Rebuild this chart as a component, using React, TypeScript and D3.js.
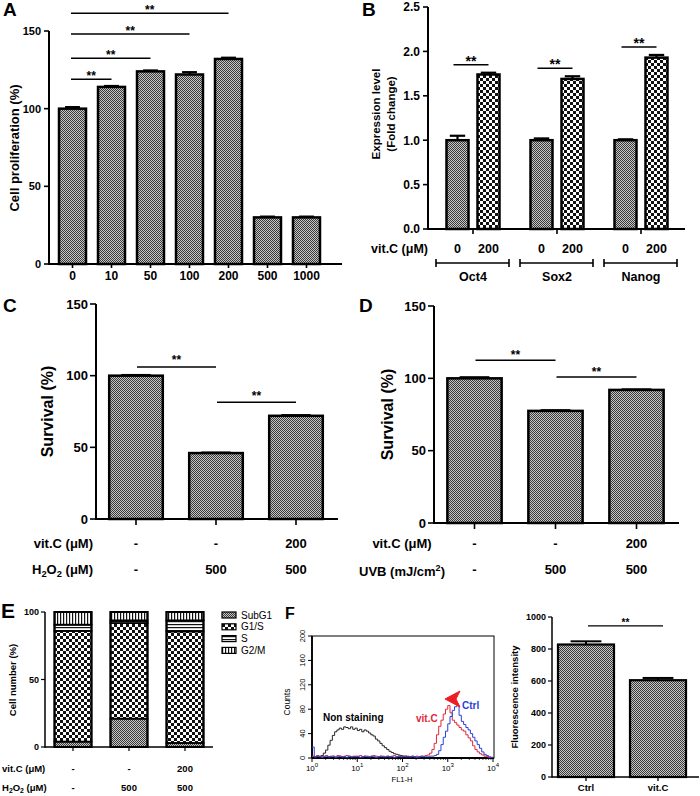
import React from 'react';
import * as d3 from 'd3';

// ---------- Panel A ----------
const aDoses = ['0', '10', '50', '100', '200', '500', '1000'];
const aValues = [100, 114, 124, 122, 132, 30, 30];
const aErrors = [1, 0.6, 0.6, 1.5, 0.8, 0.5, 0.5];
const aTicks = [0, 50, 100, 150];
const aSigTo = ['10', '50', '100', '200'];
const aSigY = [119, 132.5, 148, 161.5];

// ---------- Panel B ----------
const bGenes = ['Oct4', 'Sox2', 'Nanog'];
const bDoses = ['0', '200'];
const bControl = [1.0, 1.0, 1.0];
const bTreated = [1.74, 1.69, 1.93];
const bControlErr = [0.05, 0.02, 0.01];
const bTreatedErr = [0.02, 0.03, 0.03];
const bTicks = [0, 0.5, 1.0, 1.5, 2.0, 2.5];
const bSigY = [1.85, 1.81, 2.05];

// ---------- Panel C ----------
const cGroups = ['c1', 'c2', 'c3'];
const cVitC = ['-', '-', '200'];
const cH2O2 = ['-', '500', '500'];
const cValues = [100, 46, 72];
const cErrors = [0.5, 0.4, 0.5];
const cSigPairs = [[0, 1], [1, 2]];
const cSigY = [106, 81.5];
const survTicks = [0, 50, 100, 150];

// ---------- Panel D ----------
const dGroups = ['d1', 'd2', 'd3'];
const dVitC = ['-', '-', '200'];
const dUVB = ['-', '500', '500'];
const dValues = [100, 77.5, 92];
const dErrors = [0.8, 0.5, 0.4];
const dSigPairs = [[0, 1], [1, 2]];
const dSigY = [112.5, 101];

// ---------- Panel E ----------
const eGroups = ['e1', 'e2', 'e3'];
const ePhases = ['SubG1', 'G1/S', 'S', 'G2/M'];
const eVitC = ['-', '-', '200'];
const eH2O2 = ['-', '500', '500'];
const eSubG1 = [4, 21, 3];
const eG1S = [82, 70.8, 82.6];
const eS = [4.6, 2, 8.2];
const eG2M = [9.4, 6.2, 6.2];
const eTicks = [0, 50, 100];

// ---------- Panel F (histogram, bins of 0.05 decade from 10^0) ----------
const fBinStep = 0.05;
const fNonStaining = [2, 1, 3, 2, 4, 8, 13, 21, 29, 37, 43, 46, 49, 47, 51, 50, 48, 51, 47, 49, 45, 47, 43, 46, 44, 41, 38, 36, 31, 28, 24, 20, 17, 14, 11, 9, 7, 6, 5, 4, 3, 3, 2, 2, 1, 1, 1, 0, 0];
const fVitCHist = [3, 2, 4, 3, 2, 3, 4, 2, 3, 3, 2, 4, 3, 2, 3, 4, 3, 2, 3, 2, 3, 4, 2, 3, 3, 2, 3, 4, 3, 2, 3, 3, 2, 3, 2, 3, 4, 2, 3, 2, 3, 2, 3, 2, 3, 2, 3, 2, 3, 3, 4,
  5, 8, 14, 24, 38, 52, 62, 72, 80, 86, 74, 62, 58, 54, 50, 46, 44, 38, 33, 28, 20, 14, 10, 7, 5, 3, 2, 1, 1, 0];
const fCtrlHist = [18, 2, 3, 2, 1, 2, 3, 2, 2, 3, 1, 2, 3, 2, 2, 1, 3, 2, 2, 3, 2, 1, 2, 3, 2, 2, 3, 2, 1, 2, 3, 2, 2, 3, 2, 2, 1, 2, 3, 2, 2, 3, 2, 2, 3, 2, 1, 2, 3, 2, 2,
  2, 3, 3, 4, 6, 12, 22, 34, 44, 56, 68, 78, 84, 86, 70, 60, 55, 50, 46, 40, 34, 28, 22, 16, 10, 6, 4, 2, 1, 0];
const fHistYTicks = [0, 40, 80, 120, 160, 200];
const fHistXDecades = [0, 1, 2, 3, 4];

// ---------- Panel F (bars) ----------
const fGroups = ['Ctrl', 'vit.C'];
const fValues = [828, 605];
const fErrors = [20, 14];
const fTicks = [0, 200, 400, 600, 800, 1000];
const fSigY = 944;

const FONT = "'Liberation Sans', Arial, Helvetica, sans-serif";
const BAR_SW = 2.5;

function YAxis({ scale, x, ticks, fontSize, fmt = (d: number) => String(d), tickLen = 5, gap = 3, sw = 2 }: any) {
  const [d0, d1] = scale.domain();
  return (
    <g>
      <line x1={x} x2={x} y1={scale(d0) + sw / 2} y2={scale(d1)} stroke="#000" strokeWidth={sw} />
      {ticks.map((t: number) => (
        <g key={t}>
          <line x1={x - tickLen} x2={x} y1={scale(t)} y2={scale(t)} stroke="#000" strokeWidth={sw * 0.8} />
          <text x={x - tickLen - gap} y={scale(t)} dy="0.36em" textAnchor="end" fontSize={fontSize} fontWeight="bold">{fmt(t)}</text>
        </g>
      ))}
    </g>
  );
}

function ErrorBar({ x, y0, y1, w, sw = 2 }: any) {
  return (
    <g stroke="#000" strokeWidth={sw}>
      <line x1={x} x2={x} y1={y0} y2={y1} />
      <line x1={x - w / 2} x2={x + w / 2} y1={y1} y2={y1} />
    </g>
  );
}

function Sig({ x1, x2, y, fontSize, dy = 0, sw = 1.5 }: any) {
  return (
    <g>
      <line x1={x1} x2={x2} y1={y} y2={y} stroke="#000" strokeWidth={sw} />
      <text x={(x1 + x2) / 2} y={y + dy} textAnchor="middle" fontSize={fontSize} fontWeight="bold">**</text>
    </g>
  );
}

function H2O2({ x, y, fontSize, anchor = 'end' }: any) {
  const s = fontSize * 0.72;
  return (
    <text x={x} y={y} textAnchor={anchor} fontSize={fontSize} fontWeight="bold">
      H<tspan fontSize={s} dy={fontSize * 0.25}>2</tspan><tspan dy={-fontSize * 0.25}>O</tspan><tspan fontSize={s} dy={fontSize * 0.25}>2</tspan><tspan dy={-fontSize * 0.25}> (μM)</tspan>
    </text>
  );
}

function PanelA() {
  const x = d3.scaleBand().domain(aDoses).range([53, 326]).paddingInner(0.3077).paddingOuter(0.154);
  const y = d3.scaleLinear().domain([0, 150]).range([264, 31]);
  const bw = x.bandwidth();
  const cx = (d: string) => (x(d) as number) + bw / 2;
  return (
    <g>
      <text x={3} y={16} fontSize={19} fontWeight="bold">A</text>
      {aDoses.map((d, i) => (
        <g key={d}>
          <ErrorBar x={cx(d)} y0={y(aValues[i])} y1={y(aValues[i] + aErrors[i])} w={bw * 0.55} sw={2.2} />
          <rect x={x(d)} y={y(aValues[i])} width={bw} height={y(0) - y(aValues[i])} fill="url(#fine)" stroke="#000" strokeWidth={BAR_SW} />
          <line x1={cx(d)} x2={cx(d)} y1={y(0)} y2={y(0) + 4} stroke="#000" strokeWidth={1.6} />
          <text x={cx(d)} y={280} textAnchor="middle" fontSize={12} fontWeight="bold">{d}</text>
        </g>
      ))}
      <line x1={49} x2={342} y1={y(0)} y2={y(0)} stroke="#000" strokeWidth={2} />
      <YAxis scale={y} x={49} ticks={aTicks} fontSize={11} />
      <text transform={`translate(19,148) rotate(-90)`} textAnchor="middle" fontSize={13} fontWeight="bold">Cell proliferation (%)</text>
      {aSigTo.map((d, i) => (
        <Sig key={d} x1={cx('0') - 1.5} x2={cx(d)} y={y(aSigY[i])} fontSize={12} dy={0.5} />
      ))}
    </g>
  );
}

function PanelB() {
  const x0 = d3.scaleBand().domain(bGenes).range([431, 683]).paddingInner(0).paddingOuter(0);
  const x1 = d3.scaleBand().domain(bDoses).range([0, x0.bandwidth()]).paddingInner(0.29).paddingOuter(0.5);
  const y = d3.scaleLinear().domain([0, 2.5]).range([229, 7]);
  const bw = x1.bandwidth();
  const gc = (g: string) => (x0(g) as number) + x0.bandwidth() / 2;
  const bx = (g: string, d: string) => (x0(g) as number) + (x1(d) as number);
  return (
    <g>
      <text x={362} y={16} fontSize={19} fontWeight="bold">B</text>
      {bGenes.map((g, i) => {
        const vals = [bControl[i], bTreated[i]];
        const errs = [bControlErr[i], bTreatedErr[i]];
        return (
          <g key={g}>
            {bDoses.map((d, j) => (
              <g key={d}>
                <ErrorBar x={bx(g, d) + bw / 2} y0={y(vals[j])} y1={y(vals[j] + errs[j])} w={bw * 0.7} sw={2.2} />
                <rect x={bx(g, d)} y={y(vals[j])} width={bw} height={y(0) - y(vals[j])} fill={j === 0 ? 'url(#fine)' : 'url(#coarse)'} stroke="#000" strokeWidth={BAR_SW} />
                <text x={bx(g, d) + bw / 2} y={253} textAnchor="middle" fontSize={12.5} fontWeight="bold">{d}</text>
              </g>
            ))}
            <line x1={gc(g)} x2={gc(g)} y1={y(0)} y2={y(0) + 5} stroke="#000" strokeWidth={1.6} />
            <Sig x1={bx(g, '0') + bw / 2 - 4} x2={bx(g, '200') + bw / 2} y={y(bSigY[i])} fontSize={14} dy={1} />
            <g stroke="#000" strokeWidth={1.6}>
              <line x1={gc(g) - 37} x2={gc(g) + 36} y1={263} y2={263} />
              <line x1={gc(g) - 37} x2={gc(g) - 37} y1={259} y2={267} />
              <line x1={gc(g) + 36} x2={gc(g) + 36} y1={259} y2={267} />
            </g>
            <text x={gc(g)} y={281} textAnchor="middle" fontSize={12.5} fontWeight="bold">{g}</text>
          </g>
        );
      })}
      <line x1={428} x2={685} y1={y(0)} y2={y(0)} stroke="#000" strokeWidth={2} />
      <YAxis scale={y} x={428} ticks={bTicks} fontSize={12} fmt={(d: number) => d.toFixed(1)} />
      <text x={428} y={253} textAnchor="end" fontSize={12.5} fontWeight="bold">vit.C (μM)</text>
      <text transform={`translate(380,114) rotate(-90)`} textAnchor="middle" fontSize={11.5} fontWeight="bold">Expression level</text>
      <text transform={`translate(395,114) rotate(-90)`} textAnchor="middle" fontSize={11.5} fontWeight="bold">(Fold change)</text>
    </g>
  );
}

function SurvivalPanel({ letter, letterX, axisX, range, yRange, groups, values, errors, sigPairs, sigY, sigDy, labelX, row1, row2, row2Label, labelAnchor, labelPosX }: any) {
  const x = d3.scaleBand().domain(groups).range(range).paddingInner(0.33).paddingOuter(0.165);
  const y = d3.scaleLinear().domain([0, 150]).range(yRange);
  const bw = x.bandwidth();
  const cx = (i: number) => (x(groups[i]) as number) + bw / 2;
  return (
    <g>
      <text x={letterX} y={312} fontSize={19} fontWeight="bold">{letter}</text>
      {groups.map((g: string, i: number) => (
        <g key={g}>
          <ErrorBar x={cx(i)} y0={y(values[i])} y1={y(values[i] + errors[i])} w={bw * 0.55} sw={2} />
          <rect x={x(g)} y={y(values[i])} width={bw} height={y(0) - y(values[i])} fill="url(#fine)" stroke="#000" strokeWidth={BAR_SW} />
          <line x1={cx(i)} x2={cx(i)} y1={y(0)} y2={y(0) + 6} stroke="#000" strokeWidth={1.6} />
          <text x={cx(i)} y={548} textAnchor="middle" fontSize={13} fontWeight="bold">{row1[i]}</text>
          <text x={cx(i)} y={574} textAnchor="middle" fontSize={13} fontWeight="bold">{row2[i]}</text>
        </g>
      ))}
      <line x1={axisX} x2={range[1] + 2} y1={y(0)} y2={y(0)} stroke="#000" strokeWidth={2} />
      <YAxis scale={y} x={axisX} ticks={survTicks} fontSize={13} tickLen={6} gap={2} />
      <text transform={`translate(${labelX},${(yRange[0] + yRange[1]) / 2}) rotate(-90)`} textAnchor="middle" fontSize={16} fontWeight="bold">Survival (%)</text>
      {sigPairs.map((p: number[], k: number) => (
        <Sig key={k} x1={cx(p[0]) + 1} x2={cx(p[1])} y={y(sigY[k])} fontSize={12} dy={sigDy[k]} />
      ))}
      <text x={labelPosX} y={548} textAnchor={labelAnchor} fontSize={13} fontWeight="bold">vit.C (μM)</text>
      {row2Label}
    </g>
  );
}

function PanelE() {
  const x = d3.scaleBand().domain(eGroups).range([45, 213]).paddingInner(0.34).paddingOuter(0.17);
  const y = d3.scaleLinear().domain([0, 100]).range([747, 612]);
  const bw = x.bandwidth();
  const table = eGroups.map((g, i) => ({ group: g, SubG1: eSubG1[i], 'G1/S': eG1S[i], S: eS[i], 'G2/M': eG2M[i] }));
  const series = d3.stack<any>().keys(ePhases)(table);
  const fills: Record<string, string> = { SubG1: 'url(#fine)', 'G1/S': 'url(#coarse)', S: 'url(#hstripe)', 'G2/M': 'url(#vstripe)' };
  return (
    <g>
      <text x={1} y={618} fontSize={21} fontWeight="bold">E</text>
      {series.map((s) => (
        <g key={s.key}>
          {s.map((seg, i) => (
            <rect key={i} x={x(eGroups[i])} y={y(seg[1])} width={bw} height={y(seg[0]) - y(seg[1])} fill={fills[s.key]} stroke="#000" strokeWidth={1.8} />
          ))}
        </g>
      ))}
      {eGroups.map((g, i) => (
        <g key={g}>
          <rect x={x(g)} y={y(100)} width={bw} height={y(0) - y(100)} fill="none" stroke="#000" strokeWidth={2} />
          <line x1={(x(g) as number) + bw / 2} x2={(x(g) as number) + bw / 2} y1={y(0)} y2={y(0) + 4} stroke="#000" strokeWidth={1.2} />
          <text x={(x(g) as number) + bw / 2} y={772} textAnchor="middle" fontSize={9.5} fontWeight="bold">{eVitC[i]}</text>
          <text x={(x(g) as number) + bw / 2} y={791} textAnchor="middle" fontSize={9.5} fontWeight="bold">{eH2O2[i]}</text>
        </g>
      ))}
      <line x1={45} x2={213} y1={y(0)} y2={y(0)} stroke="#000" strokeWidth={1.5} />
      <YAxis scale={y} x={45} ticks={eTicks} fontSize={9} tickLen={4} gap={2} sw={1.5} />
      <text transform={`translate(16,680) rotate(-90)`} textAnchor="middle" fontSize={9.5} fontWeight="bold">Cell number (%)</text>
      <text x={2} y={772} fontSize={9.5} fontWeight="bold">vit.C (μM)</text>
      <H2O2 x={2} y={791} fontSize={9.5} anchor="start" />
      {ePhases.map((p, i) => (
        <g key={p}>
          <rect x={222} y={612 + i * 11.8} width={14} height={6} fill={fills[p]} stroke="#000" strokeWidth={1.2} />
          <text x={241} y={615 + i * 11.8} dy="0.35em" fontSize={10}>{p}</text>
        </g>
      ))}
    </g>
  );
}

function PanelFHist() {
  const fx = d3.scaleLog().domain([1, 1e4]).range([312, 493]);
  const fy = d3.scaleLinear().domain([0, 200]).range([758, 636]);
  const line = d3.line<number>().x((_, i) => fx(Math.pow(10, i * fBinStep))).y((d) => fy(d)).curve(d3.curveStepAfter);
  const minor: number[] = [];
  fHistXDecades.slice(0, -1).forEach((k) => { for (let m = 2; m < 10; m++) minor.push(m * Math.pow(10, k)); });
  return (
    <g>
      <text x={285} y={619} fontSize={16} fontWeight="bold">F</text>
      <rect x={312} y={636} width={182} height={122} fill="none" stroke="#000" strokeWidth={1} />
      <line x1={312} x2={312} y1={636} y2={758} stroke="#000" strokeWidth={1.8} />
      <line x1={312} x2={494} y1={758} y2={758} stroke="#000" strokeWidth={1.8} />
      <path d={line(fNonStaining) as string} fill="none" stroke="#111" strokeWidth={0.9} />
      <path d={line(fVitCHist) as string} fill="none" stroke="#e0283a" strokeWidth={1} />
      <path d={line(fCtrlHist) as string} fill="none" stroke="#2a40d8" strokeWidth={1} />
      {fHistYTicks.map((t) => (
        <g key={t}>
          <line x1={308} x2={312} y1={fy(t)} y2={fy(t)} stroke="#000" strokeWidth={1} />
          <text transform={`translate(305,${fy(t)}) rotate(-90)`} textAnchor="middle" fontSize={7.5}>{t}</text>
        </g>
      ))}
      {fHistXDecades.map((k) => (
        <g key={k}>
          <line x1={fx(Math.pow(10, k))} x2={fx(Math.pow(10, k))} y1={758} y2={762} stroke="#000" strokeWidth={1} />
          <text x={fx(Math.pow(10, k))} y={771} textAnchor="middle" fontSize={8}>10<tspan fontSize={6} dy={-4}>{k}</tspan></text>
        </g>
      ))}
      {minor.map((m, i) => (
        <line key={i} x1={fx(m)} x2={fx(m)} y1={758} y2={760} stroke="#000" strokeWidth={0.7} />
      ))}
      <text x={402} y={782} textAnchor="middle" fontSize={7.5}>FL1-H</text>
      <text transform={`translate(290,702) rotate(-90)`} textAnchor="middle" fontSize={8.5}>Counts</text>
      <text x={323} y={721} fontSize={10} fontWeight="bold">Non staining</text>
      <text x={416} y={722} fontSize={10} fontWeight="bold" fill="#e0283a">vit.C</text>
      <text x={462} y={709} fontSize={10} fontWeight="bold" fill="#2a40d8">Ctrl</text>
      <path d="M445,699 L460,691 L456,699 L460,707 Z" fill="#ee1c24" stroke="#ee1c24" strokeWidth={1} />
    </g>
  );
}

function PanelFBars() {
  const x = d3.scaleBand().domain(fGroups).range([552, 692]).paddingInner(0.222).paddingOuter(0.083);
  const y = d3.scaleLinear().domain([0, 1000]).range([777, 617]);
  const bw = x.bandwidth();
  const cx = (g: string) => (x(g) as number) + bw / 2;
  return (
    <g>
      {fGroups.map((g, i) => (
        <g key={g}>
          <ErrorBar x={cx(g)} y0={y(fValues[i])} y1={y(fValues[i] + fErrors[i])} w={bw * 0.55} sw={2} />
          <rect x={x(g)} y={y(fValues[i])} width={bw} height={y(0) - y(fValues[i])} fill="url(#fine)" stroke="#000" strokeWidth={2.2} />
          <line x1={cx(g)} x2={cx(g)} y1={y(0)} y2={y(0) + 4} stroke="#000" strokeWidth={1.3} />
          <text x={cx(g)} y={791} textAnchor="middle" fontSize={9.5} fontWeight="bold">{g}</text>
        </g>
      ))}
      <line x1={552} x2={699} y1={y(0)} y2={y(0)} stroke="#000" strokeWidth={1.5} />
      <YAxis scale={y} x={552} ticks={fTicks} fontSize={9} tickLen={4} gap={2} sw={1.5} />
      <text transform={`translate(518,697) rotate(-90)`} textAnchor="middle" fontSize={9.5} fontWeight="bold">Fluorescence intensity</text>
      <Sig x1={cx('Ctrl') + 2} x2={cx('vit.C') + 5} y={y(fSigY)} fontSize={10} dy={0} sw={1.2} />
    </g>
  );
}

export default function App() {
  return (
    <svg width={700} height={796} viewBox="0 0 700 796" style={{ position: 'absolute', left: 0, top: 0, background: '#fff' }} fontFamily={FONT}>
      <defs>
        <pattern id="fine" width="2" height="2" patternUnits="userSpaceOnUse">
          <rect width="2" height="2" fill="#c6c6c6" />
          <rect width="1" height="1" fill="#3a3a3a" />
          <rect x="1" y="1" width="1" height="1" fill="#3a3a3a" />
        </pattern>
        <pattern id="coarse" width="6" height="6" patternUnits="userSpaceOnUse">
          <rect width="6" height="6" fill="#fff" />
          <rect width="3" height="3" fill="#111" />
          <rect x="3" y="3" width="3" height="3" fill="#111" />
        </pattern>
        <pattern id="hstripe" width="4" height="3" patternUnits="userSpaceOnUse">
          <rect width="4" height="3" fill="#fff" />
          <rect width="4" height="1.2" fill="#111" />
        </pattern>
        <pattern id="vstripe" width="3" height="4" patternUnits="userSpaceOnUse">
          <rect width="3" height="4" fill="#fff" />
          <rect width="1.2" height="4" fill="#111" />
        </pattern>
      </defs>
      <rect width={700} height={796} fill="#fff" />
      <PanelA />
      <PanelB />
      <SurvivalPanel letter="C" letterX={3} axisX={96} range={[96, 336]} yRange={[519, 304]} groups={cGroups} values={cValues} errors={cErrors}
        sigPairs={cSigPairs} sigY={cSigY} sigDy={[-3, -2]} labelX={53} row1={cVitC} row2={cH2O2} labelAnchor="end" labelPosX={93}
        row2Label={<H2O2 x={93} y={574} fontSize={13} anchor="end" />} />
      <SurvivalPanel letter="D" letterX={359} axisX={434} range={[434, 677]} yRange={[523, 306]} groups={dGroups} values={dValues} errors={dErrors}
        sigPairs={dSigPairs} sigY={dSigY} sigDy={[-1, -1]} labelX={393} row1={dVitC} row2={dUVB} labelAnchor="middle" labelPosX={402}
        row2Label={<text x={402} y={576} textAnchor="middle" fontSize={13} fontWeight="bold">UVB (mJ/cm<tspan fontSize={9} dy={-5}>2</tspan><tspan dy={5}>)</tspan></text>} />
      <PanelE />
      <PanelFHist />
      <PanelFBars />
    </svg>
  );
}
